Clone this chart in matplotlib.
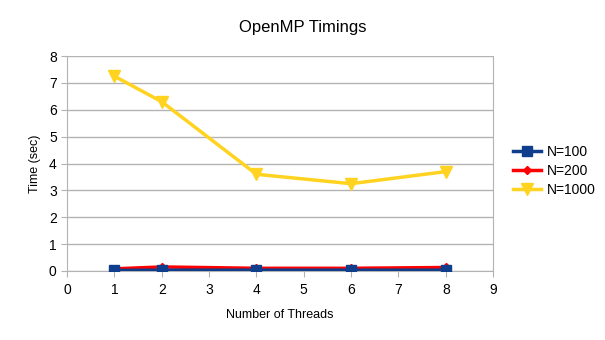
import matplotlib
matplotlib.use("Agg")
import matplotlib.pyplot as plt

plt.rcParams['font.family'] = ['Liberation Sans', 'DejaVu Sans']

threads = [1, 2, 4, 6, 8]
t_n100 = [0.02, 0.03, 0.03, 0.03, 0.03]
t_n200 = [0.08, 0.15, 0.10, 0.10, 0.13]
t_n1000 = [7.25, 6.30, 3.60, 3.25, 3.70]

fig = plt.figure(figsize=(6.05, 3.4), dpi=100)
ax = fig.add_axes([0.111, 0.203, 0.704, 0.632])

grid_c = '#b3b3b3'
ax.plot(threads, t_n100, color='#0f3f8c', lw=2.5, marker='s', ms=7, label='N=100', zorder=5)
ax.plot(threads, t_n200, color='#ff0000', lw=2.5, marker='D', ms=4, label='N=200', zorder=4)
ax.plot(threads, t_n1000, color='#ffd320', lw=2.5, marker='v', ms=8, label='N=1000', zorder=3)

ax.set_xlim(0, 9)
ax.set_ylim(0, 8)
ax.set_xticks(range(0, 10))
ax.set_yticks(range(0, 9))
ax.yaxis.grid(True, color=grid_c, lw=1)
ax.set_axisbelow(True)
for s in ['left', 'right', 'bottom']:
    ax.spines[s].set_color(grid_c)
ax.spines['top'].set_visible(False)
ax.tick_params(axis='both', colors=grid_c, labelcolor='black', labelsize=10, length=4)
ax.tick_params(axis='x', pad=5)

fig.text(0.5, 0.918, 'OpenMP Timings', fontsize=12, ha='center', va='center')
ax.set_xlabel('Number of Threads', fontsize=9, labelpad=8)
ax.set_ylabel('Time (sec)', fontsize=9, labelpad=6)

ax.legend(loc='center left', bbox_to_anchor=(0.839, 0.497), bbox_transform=fig.transFigure,
          borderaxespad=0, frameon=False, fontsize=10, handlelength=2.0,
          labelspacing=0.35, handletextpad=0.45)

fig.savefig('out.png', dpi=100)
